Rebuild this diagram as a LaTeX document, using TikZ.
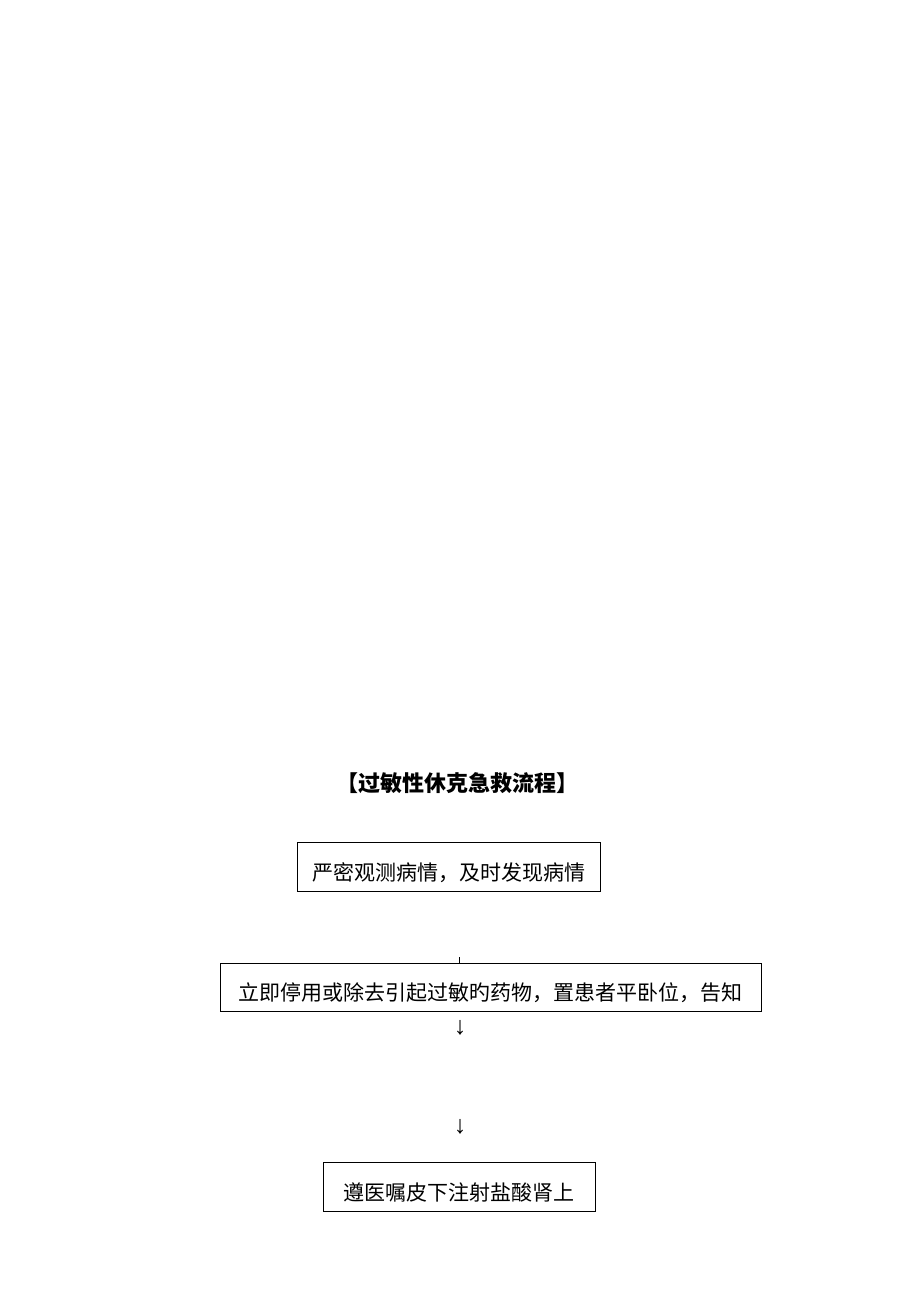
\documentclass[tikz,border=0pt]{standalone}
\usepackage{fontspec}
\newfontfamily\cjk{Noto Sans CJK SC}
\newfontfamily\arrowfont{Liberation Serif}
\begin{document}
\begin{tikzpicture}[x=1pt,y=-1pt,
  box/.style={draw=black,line width=1pt,inner sep=0pt},
  txt/.style={inner sep=0pt,font=\cjk\fontsize{21pt}{24pt}\selectfont},
  ttl/.style={inner sep=0pt,font=\cjk\bfseries\fontsize{22pt}{26pt}\selectfont},
  arr/.style={inner sep=0pt,font=\arrowfont\fontsize{25pt}{27pt}\selectfont}]
\useasboundingbox[fill=white] (0,0) rectangle (920,1302);
\node[ttl] (title) at (457,783) {【过敏性休克急救流程】};
\node[box,minimum width=303pt,minimum height=49pt] (b1) at (448.5,866.5) {};
\node[txt] (t1) at (448.5,873) {严密观测病情，及时发现病情};
\coordinate (s) at (459,957);
\node[box,minimum width=541pt,minimum height=48pt] (b2) at (490.5,987) {};
\node[txt] (t2) at (490.5,993) {立即停用或除去引起过敏旳药物，置患者平卧位，告知};
\draw[line width=0.6pt] (s) -- (s |- b2.north);
\node[arr] (a1) at (460,1028) {↓};
\node[arr] (a2) at (460,1127) {↓};
\node[box,minimum width=272pt,minimum height=49pt] (b3) at (459,1186.5) {};
\node[txt] (t3) at (459,1192) {遵医嘱皮下注射盐酸肾上};
\end{tikzpicture}
\end{document}
